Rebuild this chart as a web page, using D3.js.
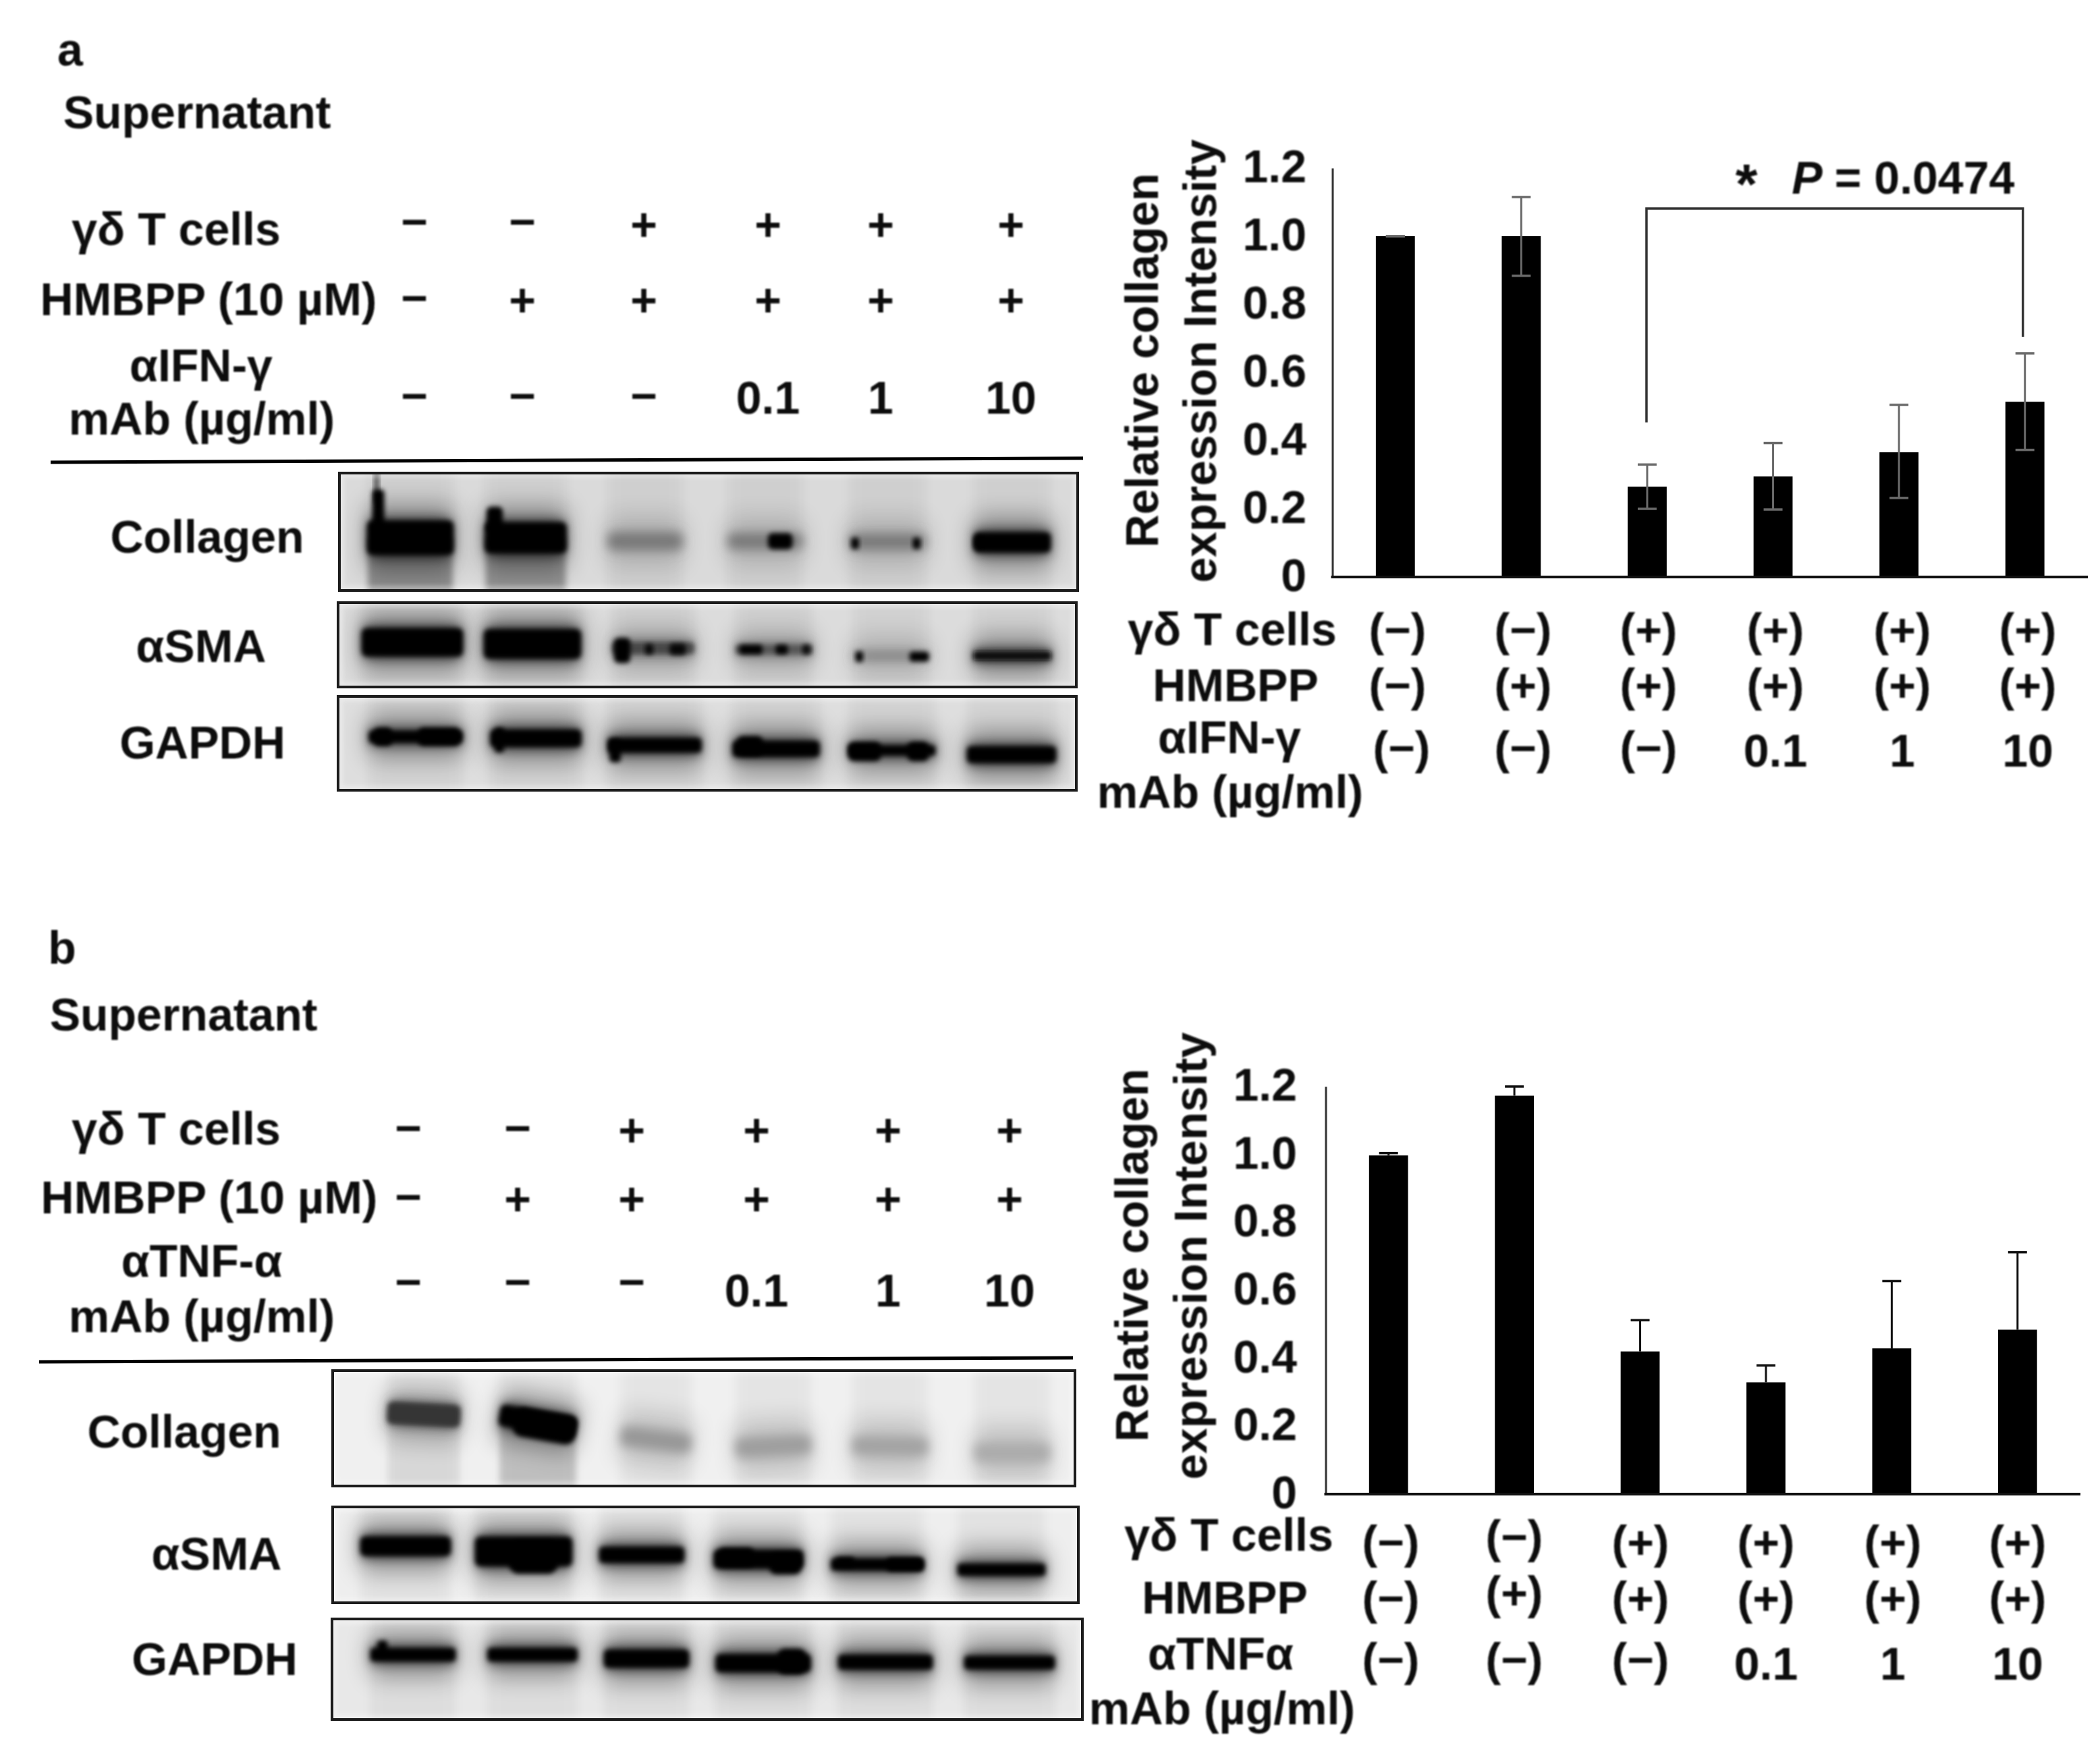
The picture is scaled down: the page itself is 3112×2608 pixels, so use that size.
<!DOCTYPE html>
<html><head><meta charset="utf-8">
<script src="https://cdn.jsdelivr.net/npm/d3@7/dist/d3.min.js"></script>
<style>html,body{margin:0;background:#fff}svg{display:block}text{font-family:"Liberation Sans",Arial,sans-serif;font-weight:700;fill:#0b0b0b}</style>
</head><body><svg id="fig" width="3112" height="2608"></svg>
<script>
// ---------- chart data ----------
const lanes = ["L1","L2","L3","L4","L5","L6"];
const yTicks = [0,0.2,0.4,0.6,0.8,1.0,1.2];
const aMeans = [1.0,1.0,0.265,0.295,0.366,0.514];
const aErrLow = [1.0,0.884,0.20,0.198,0.232,0.373];
const aErrHigh = [1.0,1.115,0.33,0.393,0.505,0.656];
const bMeans = [0.997,1.173,0.42,0.329,0.429,0.484];
const bErrHigh = [1.004,1.2,0.512,0.379,0.627,0.712];
const gdRow = ["−","−","+","+","+","+"];
const hmbppRow = ["−","+","+","+","+","+"];
const mabRow = ["−","−","−","0.1","1","10"];
const paren = s => (s==="−"||s==="+") ? "("+s+")" : s;
// blot band intensity (0-1), migration (fraction of blot height), tilt (deg)
const aCollagenI = [1,1,.42,.42,.42,1], aCollagenM = [.55,.55,.58,.58,.585,.59], aCollagenSmear=[.32,.3,0,0,0,0];
const aSmaI = [1,1,.62,.55,.42,.95], aSmaM = [.47,.49,.54,.556,.63,.63];
const aGapdhI = [1,1,1,1,1,1], aGapdhM = [.43,.446,.52,.56,.575,.62];
const bCollagenI = [.72,1,.3,.27,.25,.22], bCollagenM = [.38,.44,.6,.655,.655,.71], bCollagenSmear=[.05,.16,0,0,0,0], bCollagenTilt=[3,10,7,-3,1,0];
const bSmaI = [1,1,1,1,1,1], bSmaM = [.41,.465,.5,.545,.6,.655];
const bGapdhI = [1,1,1,1,1,1], bGapdhM = [.356,.356,.395,.44,.43,.435];
// dense spots inside bands: lane, place along band, offset across band, length, width, strength
const aCollagenSpots = [[0,-.37,-.8,.14,1.2,1],[0,-.39,-1.5,.06,1,.6],[1,-.38,-.6,.2,.8,1],[3,.2,0,.33,1,1],[4,-.42,.1,.1,.7,1],[4,.38,.1,.1,.7,1],[5,-.45,0,.1,.6,.9]];
const aSmaSpots = [[2,-.38,.2,.2,2.2,1],[2,-.05,.1,.1,.9,.9],[2,.3,.1,.2,1,.9],[3,-.3,0,.3,1,1],[3,.1,0,.16,1,1],[3,.42,0,.1,1,.9],[4,-.42,.1,.1,1.3,1],[4,.38,.1,.26,1.2,1]];
const aGapdhSpots = [[0,-.35,0,.2,1.5,1],[0,.25,0,.45,1.5,1],[1,-.4,.1,.1,1.4,1],[2,-.42,.4,.12,1.5,1],[3,-.3,-.2,.3,1.2,1],[4,-.32,.1,.38,1.9,1],[4,.3,.1,.25,1.9,1]];
const bCollagenSpots = [[1,.1,.15,.8,1.35,1]];
const bSmaSpots = [[1,.1,.2,.5,1.1,1],[3,.3,.25,.35,1.1,1],[3,-.25,-.1,.4,1,1],[4,.3,0,.4,1.1,1],[4,-.35,-.2,.2,.8,1]];
const bGapdhSpots = [[0,-.36,-.5,.12,1.1,1],[3,.3,-.1,.3,1.4,1]];

// ---------- layout ----------
const svg = d3.select("#fig");
const defs = svg.append("defs");
[["b2",3.6],["b4",4],["b10",8],["b22",17],["soft",0.9]].forEach(([id,s])=>{
  defs.append("filter").attr("id",id).attr("x","-40%").attr("y","-150%").attr("width","180%").attr("height","400%")
    .append("feGaussianBlur").attr("stdDeviation",s);
});
const root = svg.append("g");
const FS = 68;

function label(text,cx,cy,size,width,rot,style){
  const t = root.append("text").text(text).attr("font-size",size).attr("text-anchor","middle");
  if(width) t.attr("textLength",width).attr("lengthAdjust","spacingAndGlyphs");
  if(rot) t.attr("transform",`translate(${cx},${cy}) rotate(-90)`).attr("y",size*0.36);
  else t.attr("x",cx).attr("y",cy+size*0.36);
  if(style==="italic") t.attr("font-style","italic");
  return t;
}

function blot(o){
  const [x0,x1,y0,y1]=o.box, h=y1-y0, {laneX,laneW,thick,I,M,smear,spots,tilt}=o;
  const yPos=d3.scaleLinear().domain([0,1]).range([y0,y1]);
  const tone=d3.scaleLinear().domain([.2,.6,1]).range(["#b0b0b0","#4a4a4a","#000"]);
  const clip="c"+x0+"_"+y0;
  defs.append("clipPath").attr("id",clip).append("rect").attr("x",x0).attr("y",y0).attr("width",x1-x0).attr("height",h);
  const g=root.append("g");
  const inner=g.append("g").attr("clip-path",`url(#${clip})`);
  inner.append("rect").attr("x",x0).attr("y",y0).attr("width",x1-x0).attr("height",h).attr("fill",o.bg);
  I.forEach((v,i)=>{
    const cy=yPos(M[i]),w=laneW[i],t=thick[i],cx=laneX[i];
    const lane=inner.append("g").attr("transform",`rotate(${tilt?tilt[i]:0},${cx},${cy})`);
    inner.insert("rect",":first-child+*").attr("x",cx-w/2).attr("width",w).attr("y",y0-20).attr("height",h+40)
      .attr("fill","#000").attr("opacity",.045).attr("filter","url(#b10)");
    if(smear&&smear[i]>0){
      inner.insert("rect","g").attr("x",cx-w*.49).attr("width",w*.98).attr("y",cy).attr("height",y1-cy+20)
        .attr("fill","#000").attr("opacity",smear[i]).attr("filter","url(#b4)");
    }
    lane.append("rect").attr("x",cx-w/2-2).attr("width",w+4).attr("y",cy-t/2-24).attr("height",t+48).attr("rx",16)
      .attr("fill","#000").attr("opacity",.34*Math.max(v,.45)).attr("filter","url(#b22)");
    const strong=v>.5;
    lane.append("rect").attr("x",cx-w/2).attr("width",w).attr("y",cy-t/2-(strong?5:0)).attr("height",t+(strong?10:0)).attr("rx",t*.3)
      .attr("fill",tone(v)).attr("opacity",strong?.55:1).attr("filter","url(#b10)");
    if(strong) lane.append("rect").attr("x",cx-w/2).attr("width",w).attr("y",cy-t/2).attr("height",t).attr("rx",Math.min(t*.25,8))
      .attr("fill",tone(v)).attr("filter","url(#b2)");
    (spots||[]).filter(s=>s[0]===i).forEach(s=>{
      const sw=s[3]*w, st=s[4]*t, sx=cx+s[1]*w, sy=cy+s[2]*t;
      lane.append("rect").attr("x",sx-sw/2).attr("width",sw).attr("y",sy-st/2).attr("height",st).attr("rx",Math.min(sw,st)*.3)
        .attr("fill","#000").attr("opacity",s[5]).attr("filter","url(#b2)");
    });
  });
  inner.append("rect").attr("x",x0+3).attr("y",y0+3).attr("width",x1-x0-6).attr("height",h-6).attr("fill","none").attr("stroke","#fff").attr("stroke-opacity",.55).attr("stroke-width",5).attr("filter","url(#b2)");
  g.append("rect").attr("x",x0).attr("y",y0).attr("width",x1-x0).attr("height",h).attr("fill","none").attr("stroke","#1c1c1c").attr("stroke-width",4);
}

function chart(o){
  const x=d3.scaleBand().domain(lanes).range([o.x0,o.x1]).paddingInner(.69).paddingOuter(.345);
  const y=d3.scaleLinear().domain([0,1.2]).range([o.base,o.top]);
  const g=root.append("g");
  if(o.low===null){
    lanes.forEach((l,i)=>{
      const cx=x(l)+x.bandwidth()/2;
      g.append("line").attr("x1",cx).attr("x2",cx).attr("y1",y(o.means[i])).attr("y2",y(o.high[i])).attr("stroke","#111").attr("stroke-width",3);
      g.append("line").attr("x1",cx-14).attr("x2",cx+14).attr("y1",y(o.high[i])).attr("y2",y(o.high[i])).attr("stroke","#111").attr("stroke-width",3.5);
    });
  }
  g.selectAll("rect.bar").data(o.means).join("rect").attr("class","bar")
    .attr("x",(d,i)=>x(lanes[i])).attr("width",x.bandwidth())
    .attr("y",d=>y(d)).attr("height",d=>y(0)-y(d)).attr("fill","#000");
  if(o.low!==null){
    lanes.forEach((l,i)=>{
      const cx=x(l)+x.bandwidth()/2;
      g.append("line").attr("x1",cx).attr("x2",cx).attr("y1",y(o.low[i])).attr("y2",y(o.high[i])).attr("stroke","#6a6a6a").attr("stroke-width",3);
      [o.low[i],o.high[i]].forEach(v=>g.append("line").attr("x1",cx-14).attr("x2",cx+14).attr("y1",y(v)).attr("y2",y(v)).attr("stroke","#6a6a6a").attr("stroke-width",3.5));
    });
  }
  const ax=g.append("g").attr("transform",`translate(${o.x0},0)`)
    .call(d3.axisLeft(y).tickValues(yTicks).tickSize(0).tickPadding(o.x0-o.tickRight).tickFormat(d=>d===0?"0":d3.format(".1f")(d)));
  ax.select(".domain").attr("stroke","#333").attr("stroke-width",3);
  ax.selectAll("text").attr("font-size",FS).attr("font-family",null).attr("dy",".3em").style("fill","#0b0b0b");
  g.append("line").attr("x1",o.x0-2).attr("x2",o.x1).attr("y1",y(0)).attr("y2",y(0)).attr("stroke","#111").attr("stroke-width",4);
  return {x,y};
}

// ---------- panel a, left ----------
label("a",104,73,FS);
label("Supernatant",292,166,FS);
label("γδ T cells",261,339,FS);
label("HMBPP (10 µM)",309,443,FS);
label("αIFN-γ",298,541,FS);
label("mAb (µg/ml)",299,620,FS);
const aCols=[614,774,954,1138,1305,1498];
gdRow.forEach((s,i)=>label(s,aCols[i],s==="−"?328:332,FS));
hmbppRow.forEach((s,i)=>label(s,aCols[i],s==="−"?441:444,FS));
mabRow.forEach((s,i)=>label(s,aCols[i],s==="−"?586:589,FS));
root.append("line").attr("x1",75).attr("x2",1605).attr("y1",685).attr("y2",679).attr("stroke","#000").attr("stroke-width",5);
label("Collagen",307,795,FS);
label("αSMA",298,957,FS);
label("GAPDH",300,1100,FS);
blot({box:[503,1597,701,875],bg:"#dadada",laneX:[608,779,956,1134,1315,1500],laneW:[128,121,111,111,114,114],thick:[51,46,27,24,24,30],I:aCollagenI,M:aCollagenM,smear:aCollagenSmear,spots:aCollagenSpots});
blot({box:[501,1595,893,1018],bg:"#dcdcdc",laneX:[611,789,968,1147,1320,1500],laneW:[150,144,121,114,111,115],thick:[42,44,17,14,12,14],I:aSmaI,M:aSmaM,spots:aSmaSpots});
blot({box:[501,1595,1032,1171],bg:"#dedede",laneX:[616,794,970,1150,1322,1499],laneW:[139,135,139,129,128,132],thick:[18,26,22,24,15,25],I:aGapdhI,M:aGapdhM,spots:aGapdhSpots});

// ---------- panel a, right ----------
const ca=chart({x0:1974.5,x1:3094,base:855,top:249,tickRight:1936,means:aMeans,low:aErrLow,high:aErrHigh});
label("Relative collagen",1692,534,FS,555,true);
label("expression Intensity",1778,535,FS,657,true);
label("γδ T cells",1826,932,FS);
label("HMBPP",1831,1015,FS);
label("αIFN-γ",1822,1092,FS);
label("mAb (µg/ml)",1823,1173,FS);
const aRCols=[2071,2257,2443,2631,2819,3005];
gdRow.forEach((s,i)=>label(paren(s),aRCols[i],933,FS));
hmbppRow.forEach((s,i)=>label(paren(s),aRCols[i],1015,FS));
mabRow.forEach((s,i)=>{const p=paren(s); label(p,aRCols[i]+(i===0?6:0),p===s?1112:1108,FS);});
const bx=i=>ca.x(lanes[i])+ca.x.bandwidth()/2;
root.append("path").attr("d",d3.line()([[bx(2)-1,626],[bx(2)-1,309],[bx(5)-3,309],[bx(5)-3,499]])).attr("fill","none").attr("stroke","#333").attr("stroke-width",3.5);
label("*",2588,272,84);
label("P",2678,263,FS,null,false,"italic");
label("= 0.0474",2852,263,FS);

// ---------- panel b, left ----------
label("b",92,1404,FS);
label("Supernatant",272,1503,FS);
label("γδ T cells",261,1672,FS);
label("HMBPP (10 µM)",310,1774,FS);
label("αTNF-α",299,1868,FS);
label("mAb (µg/ml)",299,1950,FS);
const bCols=[605,767,936,1121,1316,1496];
gdRow.forEach((s,i)=>label(s,bCols[i],s==="−"?1671:1674,FS));
hmbppRow.forEach((s,i)=>label(s,bCols[i],s==="−"?1773:1776,FS));
mabRow.forEach((s,i)=>label(s,bCols[i],s==="−"?1899:1912,FS));
root.append("line").attr("x1",58).attr("x2",1590).attr("y1",2018).attr("y2",2012).attr("stroke","#000").attr("stroke-width",5);
label("Collagen",273,2121,FS);
label("αSMA",321,2302,FS);
label("GAPDH",318,2458,FS);
blot({box:[493,1593,2031,2202],bg:"#f0f0f0",laneX:[628,797,972,1146,1319,1500],laneW:[108,115,105,112,112,112],thick:[33,32,30,30,28,28],I:bCollagenI,M:bCollagenM,smear:bCollagenSmear,spots:bCollagenSpots,tilt:bCollagenTilt});
blot({box:[493,1598,2233,2375],bg:"#eeeeee",laneX:[601,776,951,1124,1300,1484],laneW:[134,144,126,133,137,130],thick:[29,44,24,28,18,18],I:bSmaI,M:bSmaM,spots:bSmaSpots});
blot({box:[492,1604,2399,2548],bg:"#e8e8e8",laneX:[612,789,958,1131,1312,1496],laneW:[126,133,126,141,140,134],thick:[20,20,27,27,22,20],I:bGapdhI,M:bGapdhM,spots:bGapdhSpots});

// ---------- panel b, right ----------
chart({x0:1964.5,x1:3083,base:2214,top:1610,tickRight:1922,means:bMeans,low:null,high:bErrHigh});
label("Relative collagen",1677,1860,FS,553,true);
label("expression Intensity",1764,1861,FS,663,true);
label("γδ T cells",1821,2274,FS);
label("HMBPP",1815,2367,FS);
label("αTNFα",1809,2450,FS);
label("mAb (µg/ml)",1811,2531,FS);
const bRCols=[2061,2244,2431,2617,2805,2990];
gdRow.forEach((s,i)=>label(paren(s),bRCols[i],i===1?2277:2285,FS));
hmbppRow.forEach((s,i)=>label(paren(s),bRCols[i],i===1?2360:2368,FS));
mabRow.forEach((s,i)=>{const p=paren(s); label(p,bRCols[i],p===s?2465:2459,FS);});
root.selectAll("text").attr("filter","url(#soft)");
</script></body></html>
